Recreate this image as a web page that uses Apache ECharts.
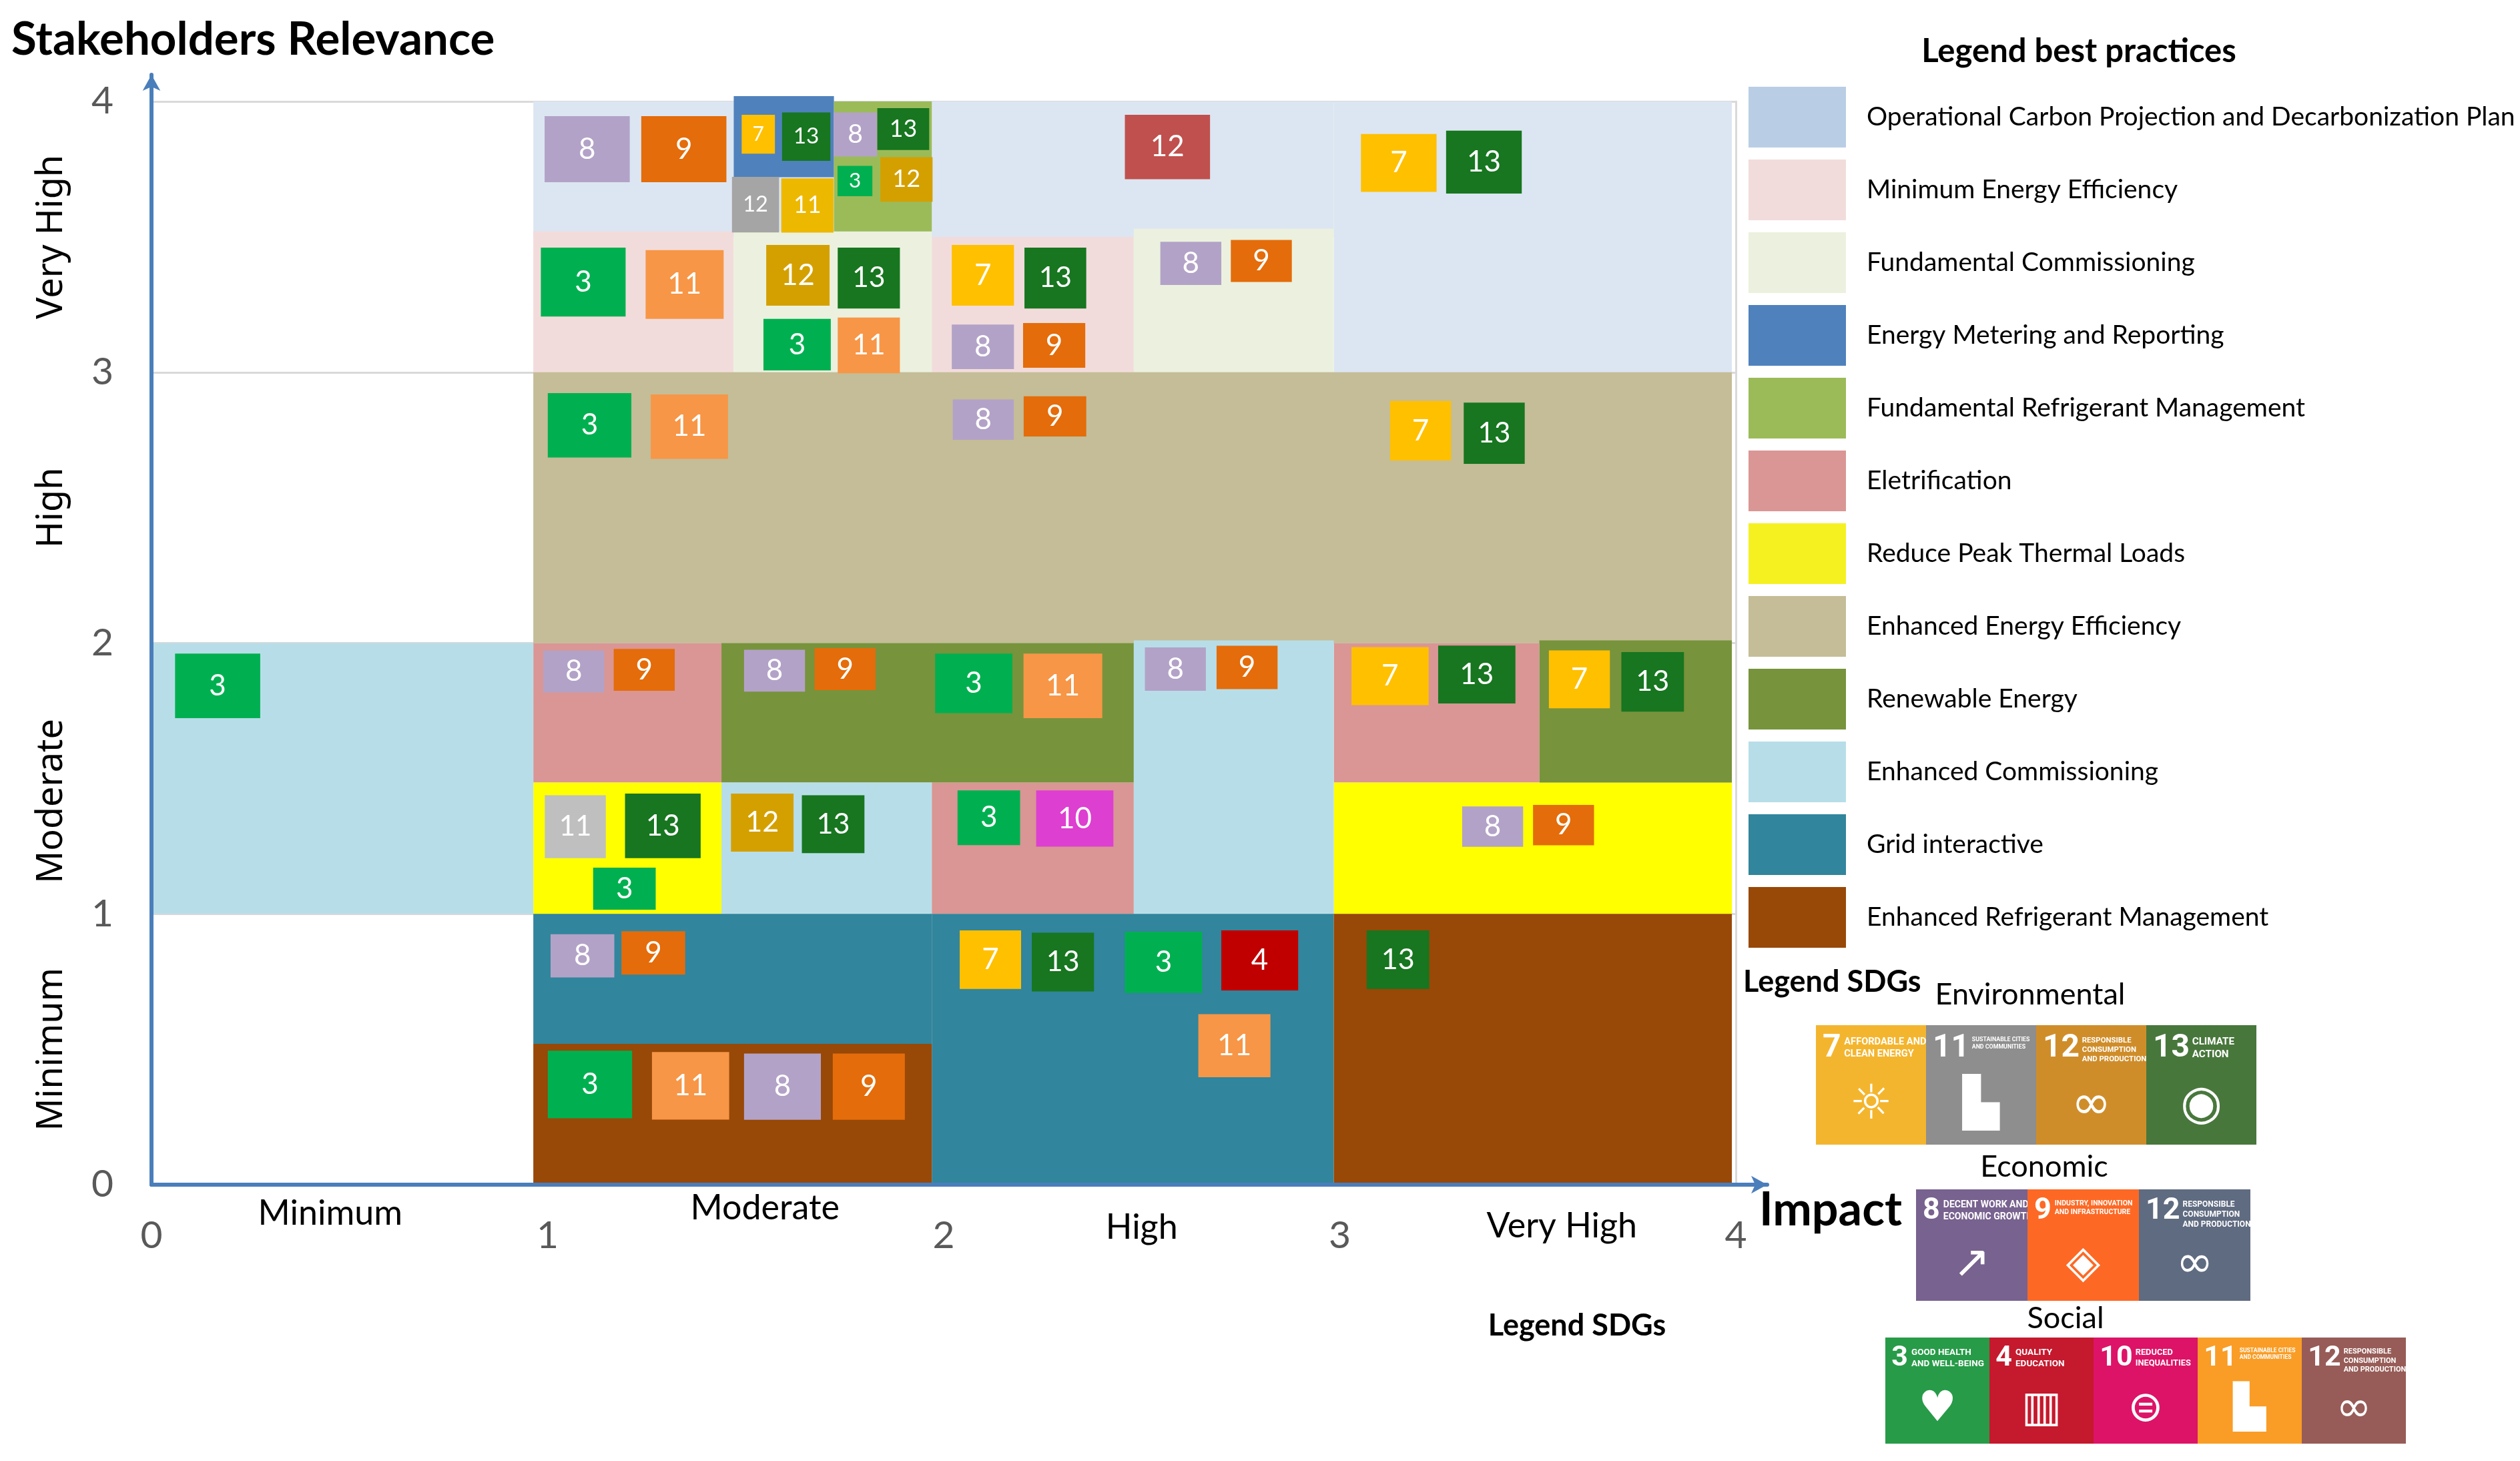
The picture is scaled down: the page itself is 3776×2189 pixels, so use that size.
<!DOCTYPE html>
<html>
<head>
<meta charset="utf-8">
<script src="https://cdn.jsdelivr.net/npm/echarts@6/dist/echarts.min.js"></script>
<style>
  html, body { margin: 0; padding: 0; background: #fff; }
  #main { width: 3776px; height: 2189px; }
</style>
</head>
<body>
<div id="main"></div>
<script>
const chart = echarts.init(document.getElementById('main'));

// Level names on both axes
const xLevels = ['Minimum', 'Moderate', 'High', 'Very High'];
const yLevels = ['Minimum', 'Moderate', 'High', 'Very High'];

// Best practices, in legend order
const practices = [
  'Operational Carbon Projection and Decarbonization Plan',
  'Minimum Energy Efficiency',
  'Fundamental Commissioning',
  'Energy Metering and Reporting',
  'Fundamental Refrigerant Management',
  'Eletrification',
  'Reduce Peak Thermal Loads',
  'Enhanced Energy Efficiency',
  'Renewable Energy',
  'Enhanced Commissioning',
  'Grid interactive',
  'Enhanced Refrigerant Management'
];
const zoneColors = ['#DCE6F2', '#F2DCDB', '#EBF1DE', '#4F81BD', '#9BBB59', '#D99694',
  '#FFFF00', '#C4BD97', '#77933C', '#B7DEE8', '#31859C', '#984807'];
const legendColors = ['#B9CDE5', '#F2DCDB', '#EBF1DE', '#4F81BD', '#9BBB59', '#D99694',
  '#F5F121', '#C4BD97', '#77933C', '#B7DEE8', '#31859C', '#984807'];

// Areas covered by each practice: [impact from, impact to, relevance from, relevance to]
const zones = [
  [[0.964, 2.985, 3.50, 4.0], [2.985, 3.99, 3.0, 4.0]],
  [[0.964, 1.47, 3.0, 3.52], [1.97, 2.48, 3.0, 3.50]],
  [[1.47, 1.97, 3.0, 3.52], [2.48, 2.985, 3.0, 3.53]],
  [[1.47, 1.723, 3.72, 4.02]],
  [[1.723, 1.97, 3.52, 4.0]],
  [[0.964, 1.439, 1.485, 2.0], [1.97, 2.48, 1.0, 1.485], [2.985, 3.504, 1.485, 2.0]],
  [[0.964, 1.439, 1.0, 1.485], [2.985, 3.99, 1.0, 1.485]],
  [[0.964, 3.99, 2.0, 3.0]],
  [[1.439, 2.48, 1.485, 2.0], [3.504, 3.99, 1.485, 2.01]],
  [[0, 0.964, 1.0, 2.0], [1.439, 1.97, 1.0, 1.485], [2.48, 2.985, 1.0, 2.01]],
  [[0.964, 1.97, 0.52, 1.0], [1.97, 2.985, 0, 1.0]],
  [[0.964, 1.97, 0, 0.52], [2.985, 3.99, 0, 1.0]]
];

// SDG badges placed on the matrix
const sdgNums = [8, 9, 7, 13, 8, 13, 3, 12, 12, 11, 12, 7, 13,
  3, 11, 12, 13, 3, 11, 7, 13, 8, 9, 8, 9,
  3, 11, 8, 9, 7, 13,
  3, 8, 9, 8, 9, 3, 11, 8, 9, 7, 13, 7, 13,
  11, 13, 3, 12, 13, 3, 10, 8, 9,
  8, 9, 3, 11, 8, 9, 7, 13, 3, 4, 11, 13];
const badgeX = [1.100, 1.344, 1.532, 1.653, 1.777, 1.898, 1.776, 1.906, 1.525, 1.656, 2.565, 3.149, 3.364,
  1.090, 1.346, 1.632, 1.811, 1.630, 1.811, 2.099, 2.282, 2.099, 2.279, 2.624, 2.802,
  1.106, 1.358, 2.100, 2.281, 3.204, 3.390,
  0.167, 1.066, 1.244, 1.573, 1.751, 2.076, 2.301, 2.585, 2.766, 3.127, 3.346, 3.605, 3.790,
  1.070, 1.291, 1.194, 1.542, 1.721, 2.114, 2.331, 3.386, 3.565,
  1.088, 1.267, 1.107, 1.361, 1.593, 1.811, 2.118, 2.301, 2.555, 2.798, 2.734, 3.147];
const badgeY = [3.824, 3.824, 3.879, 3.870, 3.878, 3.898, 3.706, 3.712, 3.619, 3.616, 3.832, 3.773, 3.776,
  3.333, 3.324, 3.358, 3.348, 3.102, 3.099, 3.358, 3.348, 3.094, 3.099, 3.402, 3.411,
  2.804, 2.799, 2.825, 2.837, 2.784, 2.775,
  1.842, 1.895, 1.901, 1.898, 1.904, 1.851, 1.842, 1.904, 1.910, 1.878, 1.884, 1.866, 1.857,
  1.322, 1.325, 1.093, 1.337, 1.331, 1.355, 1.352, 1.322, 1.328,
  0.845, 0.856, 0.370, 0.365, 0.362, 0.362, 0.831, 0.822, 0.821, 0.828, 0.513, 0.831];
const badgeW = [0.215, 0.215, 0.084, 0.122, 0.110, 0.131, 0.088, 0.132, 0.119, 0.132, 0.215, 0.191, 0.191,
  0.214, 0.197, 0.160, 0.157, 0.170, 0.157, 0.157, 0.156, 0.157, 0.157, 0.154, 0.154,
  0.211, 0.195, 0.154, 0.158, 0.154, 0.154,
  0.215, 0.154, 0.154, 0.154, 0.154, 0.195, 0.199, 0.154, 0.154, 0.195, 0.195, 0.154, 0.158,
  0.154, 0.191, 0.158, 0.158, 0.158, 0.158, 0.195, 0.154, 0.154,
  0.161, 0.161, 0.213, 0.195, 0.194, 0.182, 0.155, 0.157, 0.195, 0.194, 0.182, 0.158];
const badgeH = [0.244, 0.244, 0.144, 0.179, 0.163, 0.155, 0.112, 0.165, 0.205, 0.200, 0.238, 0.214, 0.232,
  0.254, 0.254, 0.224, 0.225, 0.190, 0.206, 0.224, 0.225, 0.165, 0.165, 0.160, 0.155,
  0.238, 0.238, 0.149, 0.149, 0.220, 0.226,
  0.238, 0.155, 0.155, 0.155, 0.155, 0.220, 0.238, 0.160, 0.160, 0.214, 0.214, 0.214, 0.220,
  0.232, 0.238, 0.155, 0.214, 0.214, 0.202, 0.208, 0.149, 0.149,
  0.160, 0.160, 0.249, 0.250, 0.245, 0.245, 0.216, 0.217, 0.226, 0.222, 0.233, 0.216];

const sdgColor = {3: '#00B050', 4: '#C00000', 7: '#FFC000', 8: '#B3A2C7', 9: '#E46C0A',
  10: '#DD3FD0', 11: '#F79646', 12: '#D4A000', 13: '#17761F'};
// a few badges use another shade
const badgeColorOverride = {8: '#A5A5A5', 9: '#EDB800', 10: '#C0504D', 44: '#BFBFBF'};

// SDG legend (right bottom)
const sdgGroups = ['Environmental', 'Economic', 'Social'];
const sdgGroupNums = [[7, 11, 12, 13], [8, 9, 12], [3, 4, 10, 11, 12]];
const sdgGroupColors = [
  ['#F4B52E', '#8E8E8E', '#CF8D2A', '#48773C'],
  ['#78628F', '#FD6925', '#5F6B80'],
  ['#279B48', '#C5192D', '#DD1367', '#F99D26', '#975C57']
];
const sdgCaptions = {
  3: ['GOOD HEALTH', 'AND WELL-BEING'],
  4: ['QUALITY', 'EDUCATION'],
  7: ['AFFORDABLE AND', 'CLEAN ENERGY'],
  8: ['DECENT WORK AND', 'ECONOMIC GROWTH'],
  9: ['INDUSTRY, INNOVATION', 'AND INFRASTRUCTURE'],
  10: ['REDUCED', 'INEQUALITIES'],
  11: ['SUSTAINABLE CITIES', 'AND COMMUNITIES'],
  12: ['RESPONSIBLE', 'CONSUMPTION', 'AND PRODUCTION'],
  13: ['CLIMATE', 'ACTION']
};
const sdgGlyph = {3: '♥', 4: '▥', 7: '☼', 8: '↗', 9: '◈', 10: '⊜', 11: '▙', 12: '∞', 13: '◉'};

const FONT = 'Lato, "Open Sans", sans-serif';

function renderZone(params, api) {
  const p0 = api.coord([api.value(0), api.value(3)]);
  const p1 = api.coord([api.value(1), api.value(2)]);
  return {
    type: 'rect',
    shape: { x: p0[0], y: p0[1], width: p1[0] - p0[0], height: p1[1] - p0[1] },
    style: { fill: api.visual('color') }
  };
}

function renderBadge(params, api) {
  const i = params.dataIndex;
  const c = api.coord([api.value(0), api.value(1)]);
  const s = api.size([api.value(2), api.value(3)]);
  const label = String(sdgNums[i]);
  const fs = Math.min(44, 0.75 * s[1], (label.length > 1 ? 0.46 : 0.6) * s[0]);
  return {
    type: 'group',
    children: [
      {
        type: 'rect',
        shape: { x: c[0] - s[0] / 2, y: c[1] - s[1] / 2, width: s[0], height: s[1] },
        style: { fill: badgeColorOverride[i] || sdgColor[sdgNums[i]] }
      },
      {
        type: 'text',
        x: c[0], y: c[1],
        style: {
          text: label, fill: '#fff', fontSize: fs, fontFamily: FONT,
          align: 'center', verticalAlign: 'middle', textAlign: 'center', textVerticalAlign: 'middle'
        }
      }
    ]
  };
}

// SDG legend tiles
const sdgRowsLayout = [
  { x: 2721, y: 1536, w: 165, h: 179, tx: 3042, ty: 1490 },
  { x: 2871, y: 1782, w: 167, h: 167, tx: 3063, ty: 1748 },
  { x: 2825, y: 2004, w: 156, h: 159, tx: 3095, ty: 1975 }
];

function txt(text, x, y, size, opts) {
  return {
    type: 'text', x: x, y: y, z: 20,
    style: Object.assign({
      text: text, fill: '#000', fontSize: size, fontFamily: FONT,
      align: 'left', verticalAlign: 'middle', textAlign: 'left', textVerticalAlign: 'middle'
    }, opts || {})
  };
}

function sdgTile(num, color, x, y, w, h) {
  const cap = sdgCaptions[num];
  const numFs = Math.round(h * 0.27);
  const capX = w * 0.06 + numFs * 0.55 * String(num).length + 6;
  const maxLen = Math.max.apply(null, cap.map(s => s.length));
  const capFs = Math.min(h * 0.085, (w - capX - 4) / (maxLen * 0.58));
  return {
    type: 'group', x: x, y: y, z: 20,
    children: [
      { type: 'rect', shape: { x: 0, y: 0, width: w, height: h }, style: { fill: color } },
      { type: 'text', x: w * 0.06, y: h * 0.06, style: {
          text: String(num), fill: '#fff', fontSize: numFs, fontWeight: 'bold', fontFamily: 'Roboto',
          align: 'left', verticalAlign: 'top', textAlign: 'left', textVerticalAlign: 'top' } },
      { type: 'text', x: capX, y: h * 0.09, style: {
          text: cap.join('\n'), fill: '#fff', fontSize: capFs, lineHeight: capFs * 1.25, fontWeight: 'bold',
          fontFamily: 'Roboto', align: 'left', verticalAlign: 'top', textAlign: 'left', textVerticalAlign: 'top' } },
      { type: 'text', x: w / 2, y: h * 0.68, style: {
          text: sdgGlyph[num], fill: '#fff', fontSize: h * 0.4, fontFamily: '"DejaVu Sans"',
          align: 'center', verticalAlign: 'middle', textAlign: 'center', textVerticalAlign: 'middle' } }
    ]
  };
}

const graphics = [
  txt('Legend best practices', 3115, 77, 49, { fontWeight: 'bold', align: 'center', textAlign: 'center' }),
  txt('Impact', 2636, 1813, 70, { fontWeight: 'bold' }),
  txt('Legend SDGs', 2612, 1471, 45, { fontWeight: 'bold' }),
  txt('Legend SDGs', 2363, 1986, 45, { fontWeight: 'bold', align: 'center', textAlign: 'center' })
];
sdgGroups.forEach((g, gi) => {
  const L = sdgRowsLayout[gi];
  graphics.push(txt(g, L.tx, L.ty, 45, { align: 'center', textAlign: 'center' }));
  sdgGroupNums[gi].forEach((n, k) => {
    graphics.push(sdgTile(n, sdgGroupColors[gi][k], L.x + k * L.w, L.y, L.w, L.h));
  });
});

// small per-label nudges so the level names sit where the original put them
const xLevelRich = {
  l0: { padding: [8, 58, 0, 0] },
  l1: { padding: [0, 0, 0, 58] },
  l2: { padding: [29, 0, 0, 0] },
  l3: { padding: [27, 0, 0, 72] }
};
Object.keys(xLevelRich).forEach(k => {
  Object.assign(xLevelRich[k], { fontSize: 52, fontFamily: FONT, color: '#000' });
});
const yLevelRich = {
  l0: { padding: [0, 0, 0, 0] },
  l1: { padding: [0, 68, 0, 0] },
  l2: { padding: [0, 0, 0, 0] },
  l3: { padding: [0, 0, 0, 0] }
};
Object.keys(yLevelRich).forEach(k => {
  Object.assign(yLevelRich[k], { fontSize: 54, fontFamily: '"Noto Sans"', color: '#000' });
});

const axisBlue = '#4A7EBB';

const option = {
  animation: false,
  backgroundColor: '#fff',
  title: {
    text: 'Stakeholders Relevance', left: 12, top: 20,
    textStyle: { fontSize: 69, fontWeight: 'bold', fontFamily: FONT, color: '#000' }
  },
  grid: [
    { left: 227, right: 1175, top: 152, bottom: 414, outerBoundsMode: 'none' },
    { left: 227, right: 1128, top: 112, bottom: 414, outerBoundsMode: 'none' }
  ],
  legend: {
    orient: 'vertical', left: 2620, top: 130, padding: 0, itemGap: 18,
    itemWidth: 146, itemHeight: 91, icon: 'rect', selectedMode: false,
    textStyle: { fontSize: 39, fontFamily: FONT, color: '#000', padding: [0, 0, 0, 26] },
    data: practices.map((p, i) => ({ name: p, itemStyle: { color: legendColors[i] } }))
  },
  xAxis: [
    {
      gridIndex: 0, type: 'value', min: 0, max: 4, interval: 1,
      axisLine: { show: false }, axisTick: { show: false }, splitLine: { show: false },
      axisLabel: { margin: 48, fontSize: 57, fontFamily: FONT, color: '#595959' }
    },
    {
      gridIndex: 0, type: 'value', min: 0, max: 4, interval: 0.5, position: 'bottom',
      axisLine: { show: false }, axisTick: { show: false }, splitLine: { show: false },
      axisLabel: {
        margin: 9, fontSize: 52, fontFamily: FONT, color: '#000', rich: xLevelRich,
        formatter: v => {
          if (v % 1 !== 0.5) return '';
          const k = Math.floor(v);
          return '{l' + k + '|' + xLevels[k] + '}';
        }
      }
    },
    {
      gridIndex: 1, type: 'value', min: 0, max: 1, z: 10,
      axisLine: { show: true, symbol: ['none', 'arrow'], symbolSize: [20, 24],
        lineStyle: { color: axisBlue, width: 6 } },
      axisTick: { show: false }, axisLabel: { show: false }, splitLine: { show: false }
    }
  ],
  yAxis: [
    {
      gridIndex: 0, type: 'value', min: 0, max: 4, interval: 1,
      axisLine: { show: false }, axisTick: { show: false },
      splitLine: { show: true, lineStyle: { color: '#D9D9D9', width: 3 } },
      axisLabel: { margin: 57, fontSize: 57, fontFamily: FONT, color: '#595959' }
    },
    {
      gridIndex: 0, type: 'value', min: 0, max: 4, interval: 0.5, position: 'left',
      axisLine: { show: false }, axisTick: { show: false }, splitLine: { show: false },
      axisLabel: {
        margin: 122, rotate: 90, fontSize: 54, fontFamily: '"Noto Sans"', color: '#000', rich: yLevelRich,
        formatter: v => {
          if (v % 1 !== 0.5) return '';
          const k = Math.floor(v);
          return '{l' + k + '|' + yLevels[k] + '}';
        }
      }
    },
    {
      gridIndex: 0, type: 'value', min: 0, max: 4, position: 'right',
      axisLine: { show: true, lineStyle: { color: '#D9D9D9', width: 3 } },
      axisTick: { show: false }, axisLabel: { show: false }, splitLine: { show: false }
    },
    {
      gridIndex: 1, type: 'value', min: 0, max: 1, z: 10,
      axisLine: { show: true, symbol: ['none', 'arrow'], symbolSize: [20, 24],
        lineStyle: { color: axisBlue, width: 6 } },
      axisTick: { show: false }, axisLabel: { show: false }, splitLine: { show: false }
    }
  ],
  graphic: graphics,
  series: practices.map((name, i) => ({
    type: 'custom', name: name, xAxisIndex: 0, yAxisIndex: 0, z: 1, silent: true,
    itemStyle: { color: zoneColors[i] },
    renderItem: renderZone,
    data: zones[i]
  })).concat([{
    type: 'custom', name: 'SDG badges', xAxisIndex: 0, yAxisIndex: 0, z: 3, silent: true,
    renderItem: renderBadge,
    data: sdgNums.map((n, i) => [badgeX[i], badgeY[i], badgeW[i], badgeH[i]])
  }])
};

chart.setOption(option);
</script>
</body>
</html>
